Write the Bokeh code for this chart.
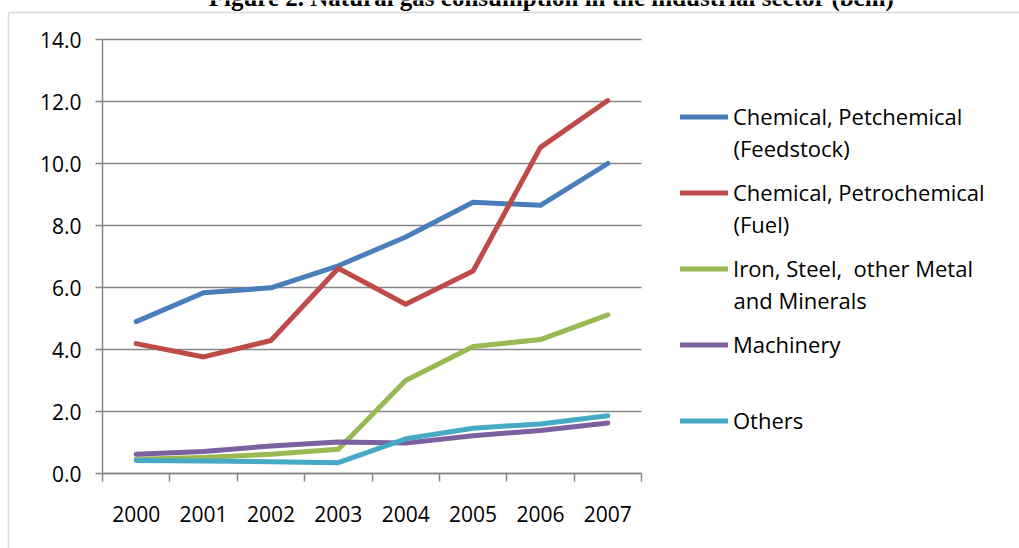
from bokeh.plotting import figure
from bokeh.models import (Range1d, FixedTicker, NumeralTickFormatter, Legend, LegendItem,
                          Label, BoxAnnotation)
from bokeh.embed import file_html
from bokeh.resources import INLINE

years = ["2000", "2001", "2002", "2003", "2004", "2005", "2006", "2007"]
feedstock = [4.90, 5.83, 5.99, 6.70, 7.63, 8.75, 8.65, 10.00]
fuel = [4.19, 3.76, 4.29, 6.62, 5.46, 6.53, 10.52, 12.03]
iron_steel = [0.46, 0.52, 0.62, 0.78, 3.00, 4.10, 4.32, 5.12]
machinery = [0.62, 0.71, 0.89, 1.02, 0.98, 1.22, 1.39, 1.63]
others = [0.42, 0.40, 0.38, 0.35, 1.12, 1.46, 1.60, 1.86]

series_names = ["Chemical, Petchemical", "Chemical, Petrochemical",
                "Iron, Steel,  other Metal", "Machinery", "Others"]
second_lines = ["(Feedstock)", "(Fuel)", "and Minerals", None, None]
colors = ["#4A7EBB", "#BE4B48", "#98B954", "#7D60A0", "#46AAC5"]
y_ticks = [0, 2, 4, 6, 8, 10, 12, 14]
title_text = "Figure 2. Natural gas consumption in the industrial sector (bcm)"

FONT = "Open Sans"
GRAY = "#868686"

# page layout (pixels)
W, H = 1019, 548
PL, PR, PT, PB = 102, 641, 39, 473          # plotting area
Y_MAX = 14
n = len(years)
ux = (PR - PL) / n
uy = (PB - PT) / Y_MAX

xs = [i + 0.5 for i in range(n)]

p = figure(width=W, height=H, output_backend="svg", toolbar_location=None,
           x_range=Range1d(-PL / ux, (W - PL) / ux),
           y_range=Range1d(-(H - PB) / uy, PB / uy),
           min_border=0, min_border_left=0, min_border_right=0,
           min_border_top=0, min_border_bottom=0,
           styles={"position": "absolute", "left": "0px", "top": "0px"})
p.background_fill_color = "white"
p.border_fill_color = "white"
p.outline_line_color = None

# x axis (drawn at y = 0)
xa = p.xaxis[0]
xa.fixed_location = 0
xa.bounds = (0, n)
xa.ticker = FixedTicker(ticks=xs, minor_ticks=list(range(n + 1)))
xa.major_label_overrides = {x: y for x, y in zip(xs, years)}
xa.major_tick_out = 0
xa.major_tick_in = 0
xa.minor_tick_out = 8
xa.minor_tick_in = 0
xa.minor_tick_line_color = GRAY
xa.minor_tick_line_width = 1.5
xa.axis_line_color = GRAY
xa.axis_line_width = 1.5
xa.major_label_text_font = FONT
xa.major_label_text_font_size = "21px"
xa.major_label_text_color = "black"
xa.major_label_standoff = 24

# y axis (drawn at x = 0)
ya = p.yaxis[0]
ya.fixed_location = 0
ya.bounds = (0, Y_MAX)
ya.ticker = FixedTicker(ticks=y_ticks)
ya.formatter = NumeralTickFormatter(format="0.0")
ya.major_tick_out = 7
ya.major_tick_in = 0
ya.minor_tick_out = 0
ya.minor_tick_in = 0
ya.major_tick_line_color = GRAY
ya.major_tick_line_width = 1.5
ya.axis_line_color = GRAY
ya.axis_line_width = 1.5
ya.major_label_text_font = FONT
ya.major_label_text_font_size = "21px"
ya.major_label_text_color = "black"
ya.major_label_standoff = 14

# grid: horizontal lines only across the plotting area
p.xgrid.grid_line_color = None
g = p.ygrid[0]
if "cross_bounds" in g.properties():
    g.ticker = FixedTicker(ticks=y_ticks)
    g.bounds = (0, Y_MAX)
    g.cross_bounds = (0, n)
    g.grid_line_color = GRAY
    g.grid_line_width = 1.5
else:
    g.grid_line_color = None
    p.segment(x0=[0] * len(y_ticks), x1=[n] * len(y_ticks), y0=y_ticks, y1=y_ticks,
              line_color=GRAY, line_width=1.5, level="underlay")

renderers = []
for vals, col in zip([feedstock, fuel, iron_steel, machinery, others], colors):
    r = p.line(xs, vals, line_color=col, line_width=5, line_cap="round", line_join="round")
    renderers.append(r)

# legend
LEG_FS = "22px"
item_h, pitch = 31, 76
first_center = 116
legend_h = 5 * item_h + 4 * (pitch - item_h)
legend_top = first_center - item_h / 2
items = [LegendItem(label=nm, renderers=[r]) for nm, r in zip(series_names, renderers)]
legend = Legend(items=items, location=(680, H - (legend_top + legend_h)), orientation="vertical",
                label_text_font=FONT, label_text_font_size=LEG_FS, label_text_color="black",
                background_fill_alpha=0, border_line_color=None, padding=0, margin=0,
                spacing=pitch - item_h, label_height=item_h, glyph_height=item_h,
                glyph_width=48, label_standoff=5)
p.add_layout(legend, "center")

# second lines of the legend labels
line_gap = 31
for k, txt in enumerate(second_lines):
    if txt:
        cy = first_center + k * pitch + line_gap
        p.add_layout(Label(x=733, y=H - cy, x_units="screen", y_units="screen",
                           text=txt, text_font=FONT, text_font_size=LEG_FS, text_color="black",
                           text_baseline="middle", text_align="left"))

# chart area border (left and top edges visible)
p.add_layout(BoxAnnotation(left=8, right=W + 50, top=H - 12, bottom=-50,
                           left_units="screen", right_units="screen",
                           top_units="screen", bottom_units="screen",
                           fill_alpha=0, line_color=GRAY, line_width=1.5))

# document caption, partially cut off at the top of the page
p.add_layout(Label(x=551, y=H + 3, x_units="screen", y_units="screen", text=title_text,
                   text_font="Liberation Serif", text_font_style="bold", text_font_size="25px",
                   text_color="black", text_align="center", text_baseline="alphabetic"))

open("out.html", "w").write(file_html(p, INLINE))
